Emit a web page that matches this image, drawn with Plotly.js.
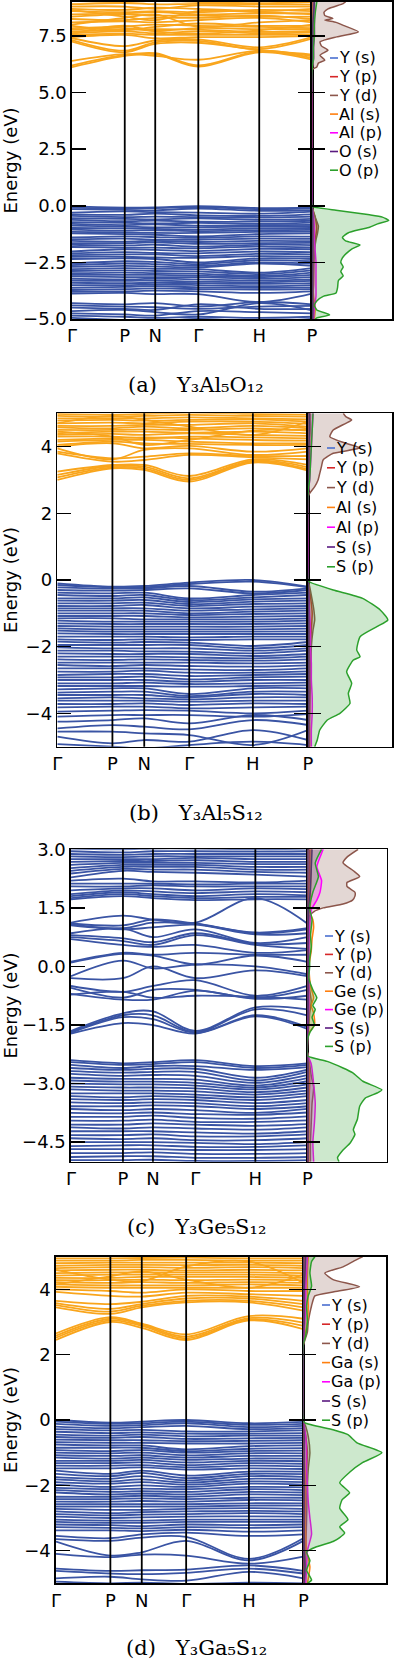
<!DOCTYPE html>
<html><head><meta charset="utf-8">
<script src="https://cdn.plot.ly/plotly-3.0.1.min.js"></script>
<style>html,body{margin:0;padding:0;background:#fff;}#chart{width:394px;height:1660px;}</style>
</head><body><div id="chart"></div>
<script>
// k-path (Γ-P-N-Γ-H-P, bcc) cumulative distances and labels
const kDist = [0, 0.866, 1.366, 2.073, 3.073, 3.939];
const kLabels = ['Γ','P','N','Γ','H','P'];

// ---------- band energies (eV) at Γ, P, N, Γ, H, P ----------
const bandsA_cond = [
[6.12,6.62,6.70,6.15,6.78,6.45],[6.20,6.66,6.74,6.20,6.82,6.52],[6.40,6.70,6.62,6.45,6.85,6.60],
[7.25,6.78,7.15,7.20,6.88,6.68],[7.32,6.85,7.22,7.28,6.92,7.38],[7.40,7.05,7.30,7.35,7.00,7.45],
[7.45,7.55,7.40,7.45,7.45,7.50],[7.55,7.60,7.55,7.55,7.55,7.55],[7.62,7.70,7.62,7.70,7.62,7.65],
[7.70,7.78,7.80,7.78,7.68,7.72],[7.78,7.85,7.72,7.85,7.80,7.80],[7.85,7.92,8.00,7.95,7.90,7.85],
[7.95,7.75,7.90,8.05,7.95,7.95],[8.10,8.15,8.10,8.20,8.30,8.10],[8.25,8.20,8.30,8.30,8.40,8.25],
[8.35,8.45,8.40,8.40,8.35,8.35],[8.45,8.50,8.55,8.45,8.50,8.50],[8.60,8.55,8.60,8.55,8.65,8.60],
[8.70,8.65,8.75,8.70,8.60,8.70],[8.80,8.80,8.70,8.85,8.80,8.80],[8.90,8.95,8.90,8.92,8.90,8.88],
[8.65,8.35,8.20,8.60,8.55,8.45],[8.00,8.30,8.45,7.90,8.10,8.20],[7.60,7.95,7.70,7.60,7.75,8.00],
[9.05,9.00,9.05,9.00,8.95,9.00]];
const bandsA_val = [
[-0.03,-0.08,-0.07,-0.02,-0.10,-0.08],[-0.08,-0.12,-0.10,-0.06,-0.15,-0.12],[-0.15,-0.18,-0.20,-0.12,-0.22,-0.20],
[-0.30,-0.25,-0.28,-0.30,-0.35,-0.26],[-0.38,-0.40,-0.35,-0.42,-0.45,-0.38],[-0.45,-0.50,-0.48,-0.50,-0.52,-0.48],
[-0.55,-0.58,-0.60,-0.56,-0.62,-0.58],[-0.62,-0.68,-0.65,-0.70,-0.70,-0.66],[-0.72,-0.75,-0.78,-0.75,-0.80,-0.74],
[-0.80,-0.85,-0.82,-0.88,-0.86,-0.84],[-0.88,-0.92,-0.95,-0.95,-0.92,-0.90],[-0.98,-1.00,-1.02,-1.05,-1.00,-0.98],
[-1.05,-1.10,-1.08,-1.12,-1.08,-1.06],[-1.15,-1.18,-1.20,-1.20,-1.15,-1.14],[-1.22,-1.25,-1.28,-1.35,-1.25,-1.22],
[-1.40,-1.35,-1.38,-1.42,-1.35,-1.36],[-1.48,-1.45,-1.50,-1.50,-1.45,-1.46],[-1.55,-1.58,-1.55,-1.60,-1.55,-1.56],
[-1.65,-1.65,-1.62,-1.68,-1.65,-1.64],[-1.72,-1.75,-1.72,-1.80,-1.72,-1.74],[-1.82,-1.85,-1.85,-1.88,-1.80,-1.84],
[-2.02,-1.92,-1.95,-2.00,-1.90,-1.92],[-2.10,-2.05,-2.08,-2.10,-2.02,-2.05],[-2.18,-2.15,-2.15,-2.22,-2.12,-2.15],
[-2.25,-2.25,-2.28,-2.30,-2.22,-2.25],[-2.35,-2.32,-2.35,-2.50,-2.32,-2.35],[-2.55,-2.45,-2.48,-2.58,-2.40,-2.45],
[-2.62,-2.55,-2.58,-2.65,-2.50,-2.55],[-2.70,-2.65,-2.68,-2.72,-2.55,-2.65],[-2.80,-2.75,-2.78,-2.80,-2.95,-2.75],
[-2.88,-2.85,-2.88,-2.90,-3.02,-2.85],[-2.98,-2.95,-2.98,-3.00,-3.10,-2.95],[-3.05,-3.05,-3.05,-3.08,-3.15,-3.05],
[-3.12,-3.15,-3.15,-3.15,-3.22,-3.15],[-3.22,-3.25,-3.22,-3.25,-3.30,-3.25],[-3.30,-3.32,-3.30,-3.35,-3.38,-3.32],
[-3.40,-3.42,-3.40,-3.42,-3.45,-3.42],[-3.50,-3.50,-3.48,-3.50,-3.55,-3.50],[-3.62,-3.58,-3.55,-3.60,-3.62,-3.60],
[-3.72,-3.68,-3.65,-3.68,-3.70,-3.68],[-3.80,-3.78,-3.75,-3.78,-3.85,-3.78],[-3.88,-3.85,-3.90,-3.90,-4.25,-3.88],
[-4.30,-4.35,-4.30,-4.45,-4.25,-4.35],[-4.40,-4.45,-4.48,-4.55,-4.45,-4.42],[-4.50,-4.55,-4.60,-4.35,-4.55,-4.55],
[-4.65,-4.60,-4.70,-4.80,-4.30,-4.62],[-4.75,-4.80,-4.85,-4.65,-4.70,-4.75],[-4.85,-4.90,-4.95,-4.90,-4.95,-4.90],
[-4.95,-5.05,-5.10,-5.00,-5.10,-5.00]];

const bandsB_cond = [
[3.00,3.35,3.30,2.95,3.52,3.28],[3.08,3.38,3.35,3.00,3.55,3.32],[3.15,3.42,3.40,3.05,3.58,3.38],
[3.25,3.45,3.45,3.12,3.62,3.45],[3.80,3.55,3.60,3.75,3.68,3.62],[3.85,3.65,3.70,3.80,3.72,3.72],
[3.95,3.62,3.90,3.95,3.75,3.85],[4.00,4.10,3.95,4.02,3.85,3.95],[4.05,4.15,4.10,4.08,4.05,4.05],
[4.15,4.20,4.20,4.15,4.10,4.10],[4.20,4.25,4.28,4.25,4.20,4.18],[4.30,4.30,4.25,4.30,4.28,4.25],
[4.35,4.38,4.35,4.40,4.35,4.32],[4.40,4.45,4.45,4.42,4.45,4.40],[4.50,4.50,4.52,4.50,4.55,4.48],
[4.58,4.55,4.60,4.55,4.62,4.55],[4.62,4.62,4.65,4.65,4.70,4.60],[4.70,4.72,4.70,4.75,4.75,4.68],
[4.78,4.80,4.78,4.80,4.82,4.75],[4.85,4.85,4.85,4.88,4.85,4.82],[4.92,4.90,4.92,4.95,4.92,4.90],
[4.98,4.96,4.98,5.02,4.98,4.96],[4.45,4.30,4.05,4.20,4.48,4.50],[4.70,4.92,4.80,4.60,4.35,4.75]];
const bandsB_val = [
[-0.10,-0.20,-0.18,-0.08,0.00,-0.20],[-0.15,-0.22,-0.22,-0.12,-0.05,-0.22],[-0.22,-0.26,-0.25,-0.18,-0.35,-0.25],
[-0.30,-0.32,-0.30,-0.25,-0.40,-0.30],[-0.38,-0.40,-0.38,-0.55,-0.45,-0.38],[-0.45,-0.48,-0.45,-0.60,-0.52,-0.45],
[-0.55,-0.55,-0.52,-0.66,-0.58,-0.55],[-0.62,-0.62,-0.60,-0.72,-0.65,-0.62],[-0.70,-0.70,-0.68,-0.78,-0.72,-0.70],
[-0.78,-0.78,-0.75,-0.85,-0.80,-0.78],[-0.85,-0.85,-0.85,-0.92,-0.88,-0.85],[-0.92,-0.92,-0.92,-1.00,-0.95,-0.92],
[-1.00,-1.00,-1.00,-1.05,-1.02,-1.00],[-1.08,-1.08,-1.08,-1.12,-1.10,-1.08],[-1.15,-1.15,-1.18,-1.18,-1.18,-1.15],
[-1.22,-1.25,-1.25,-1.25,-1.25,-1.22],[-1.30,-1.32,-1.32,-1.32,-1.32,-1.30],[-1.38,-1.40,-1.40,-1.40,-1.40,-1.38],
[-1.45,-1.48,-1.48,-1.48,-1.48,-1.46],[-1.52,-1.55,-1.55,-1.55,-1.55,-1.54],[-1.60,-1.62,-1.62,-1.62,-1.62,-1.62],
[-1.70,-1.70,-1.70,-1.72,-1.70,-1.70],[-1.78,-1.80,-1.78,-1.80,-1.78,-1.78],[-1.85,-1.88,-1.86,-1.88,-1.98,-1.86],
[-1.95,-1.95,-1.95,-1.95,-2.05,-1.95],[-2.02,-2.05,-2.05,-2.05,-2.12,-2.05],[-2.12,-2.12,-2.14,-2.15,-2.20,-2.12],
[-2.20,-2.22,-2.22,-2.22,-2.28,-2.22],[-2.30,-2.30,-2.30,-2.32,-2.35,-2.30],[-2.38,-2.40,-2.38,-2.40,-2.42,-2.38],
[-2.48,-2.48,-2.48,-2.48,-2.50,-2.48],[-2.55,-2.58,-2.55,-2.58,-2.60,-2.56],[-2.65,-2.65,-2.65,-2.68,-2.70,-2.65],
[-2.75,-2.75,-2.72,-2.78,-2.78,-2.74],[-2.85,-2.82,-2.82,-2.88,-2.85,-2.82],[-2.92,-2.92,-2.90,-2.98,-2.92,-2.90],
[-3.00,-3.00,-3.00,-3.05,-3.00,-3.00],[-3.10,-3.10,-3.08,-3.12,-3.10,-3.08],[-3.18,-3.18,-3.18,-3.20,-3.18,-3.16],
[-3.28,-3.25,-3.25,-3.42,-3.25,-3.25],[-3.38,-3.35,-3.35,-3.48,-3.35,-3.35],[-3.45,-3.45,-3.45,-3.52,-3.42,-3.45],
[-3.55,-3.52,-3.55,-3.58,-3.52,-3.52],[-3.62,-3.62,-3.62,-3.65,-3.62,-3.62],[-3.72,-3.72,-3.70,-3.75,-3.70,-3.72],
[-3.82,-3.80,-3.80,-3.85,-3.82,-3.80],[-3.95,-3.92,-3.90,-3.92,-4.00,-3.92],[-4.10,-4.05,-4.05,-4.05,-4.10,-4.02],
[-4.25,-4.20,-4.15,-4.30,-4.05,-4.20],[-4.45,-4.35,-4.40,-4.48,-4.20,-4.35],[-4.55,-4.55,-4.60,-4.65,-4.95,-4.50],
[-4.70,-4.90,-4.80,-4.85,-4.50,-4.80],[-4.92,-5.00,-5.05,-4.95,-4.85,-4.95]];

const bandsC_top = [
[1.72,1.80,1.75,1.70,1.72,1.72],[1.75,1.85,1.80,1.75,1.78,1.78],[1.80,1.90,1.85,1.80,1.85,1.82],
[1.85,1.95,1.92,1.88,1.92,1.90],[1.95,2.00,2.00,1.95,2.00,1.98],[2.05,2.05,2.08,2.05,2.05,2.05],
[2.12,2.12,2.12,2.10,2.12,2.12],[2.20,2.25,2.18,2.18,2.15,2.20],[2.28,2.45,2.42,2.40,2.35,2.30],
[2.38,2.50,2.48,2.48,2.42,2.40],[2.45,2.55,2.55,2.55,2.48,2.48],[2.52,2.60,2.60,2.60,2.55,2.55],
[2.60,2.65,2.65,2.65,2.62,2.62],[2.68,2.70,2.70,2.72,2.68,2.68],[2.75,2.75,2.75,2.78,2.75,2.75],
[2.82,2.80,2.82,2.82,2.82,2.82],[2.88,2.86,2.88,2.88,2.88,2.88],[2.95,2.92,2.95,2.95,2.94,2.95],
[3.02,3.00,3.02,3.02,3.00,3.02]];
const bandsC_mid = [
[1.12,1.30,1.20,1.12,1.75,1.10],[1.10,1.05,1.20,1.10,0.87,0.98],[1.08,0.98,1.12,1.09,0.85,0.95],
[1.05,0.95,1.00,1.07,0.82,0.85],[0.85,0.97,0.75,0.95,0.60,0.75],[0.80,0.72,0.62,0.85,0.58,0.60],
[0.75,0.65,0.55,0.80,0.55,0.45],[0.70,0.55,0.50,0.55,0.35,0.42],[0.12,0.35,0.30,0.35,0.30,0.30],
[0.10,0.32,0.28,0.05,0.28,0.12],[-0.25,0.15,-0.05,0.05,0.00,-0.20],[-0.30,-0.30,0.00,-0.30,-0.10,-0.25],
[-0.50,-0.65,-0.50,-0.35,-0.75,-0.50],[-0.55,-0.80,-0.60,-0.60,-0.80,-0.60],[-0.70,-0.85,-0.85,-0.62,-0.83,-0.75],
[-0.72,-0.65,-0.80,-0.75,-0.78,-0.85],[-1.65,-1.20,-1.15,-1.65,-1.05,-1.10],[-1.68,-1.25,-1.25,-1.68,-1.10,-1.25],
[-1.70,-1.30,-1.35,-1.70,-1.25,-1.55],[-1.72,-1.45,-1.50,-1.72,-1.28,-1.60]];
const bandsC_val = [
[-2.40,-2.48,-2.45,-2.40,-2.55,-2.48],[-2.45,-2.52,-2.50,-2.45,-2.60,-2.52],[-2.52,-2.60,-2.55,-2.55,-2.65,-2.58],
[-2.60,-2.65,-2.62,-2.62,-2.85,-2.64],[-2.68,-2.72,-2.70,-2.70,-2.92,-2.70],[-2.75,-2.80,-2.78,-2.80,-2.98,-2.78],
[-2.85,-2.88,-2.88,-2.90,-3.05,-2.86],[-2.92,-2.95,-2.95,-2.98,-3.10,-2.94],[-3.00,-3.02,-3.02,-3.05,-3.15,-3.02],
[-3.08,-3.10,-3.10,-3.12,-3.22,-3.10],[-3.15,-3.18,-3.18,-3.20,-3.28,-3.18],[-3.25,-3.25,-3.25,-3.28,-3.35,-3.25],
[-3.32,-3.35,-3.32,-3.35,-3.42,-3.32],[-3.40,-3.42,-3.40,-3.42,-3.50,-3.42],[-3.48,-3.50,-3.48,-3.50,-3.58,-3.50],
[-3.58,-3.58,-3.56,-3.58,-3.65,-3.58],[-3.65,-3.68,-3.65,-3.68,-3.75,-3.65],[-3.75,-3.76,-3.74,-3.78,-3.80,-3.74],
[-3.85,-3.85,-3.82,-3.88,-3.90,-3.84],[-3.95,-3.95,-3.92,-3.98,-3.98,-3.94],[-4.05,-4.05,-4.02,-4.05,-4.08,-4.04],
[-4.12,-4.15,-4.12,-4.15,-4.18,-4.12],[-4.22,-4.22,-4.22,-4.25,-4.28,-4.22],[-4.32,-4.32,-4.30,-4.35,-4.35,-4.30],
[-4.40,-4.42,-4.40,-4.45,-4.45,-4.40],[-4.50,-4.50,-4.50,-4.52,-4.55,-4.50],[-4.60,-4.58,-4.58,-4.62,-4.62,-4.58],
[-4.68,-4.68,-4.68,-4.70,-4.70,-4.68],[-4.78,-4.78,-4.76,-4.80,-4.80,-4.78],[-4.88,-4.86,-4.86,-4.90,-4.90,-4.88],
[-4.96,-4.96,-4.95,-4.98,-4.98,-4.96]];

const bandsD_cond = [
[2.45,3.00,2.82,2.45,3.05,2.78],[2.52,3.05,2.88,2.50,3.08,2.88],[2.58,3.10,2.92,2.55,3.12,2.98],
[2.65,3.15,2.95,2.62,3.18,3.10],[3.45,3.25,3.45,3.60,3.60,3.35],[3.52,3.32,3.50,3.65,3.65,3.45],
[3.58,3.40,3.55,3.72,3.72,3.55],[3.65,3.55,3.62,3.80,3.78,3.65],[3.92,3.80,3.78,3.90,3.85,3.80],
[4.00,3.95,3.90,4.00,3.95,3.95],[4.08,4.05,4.05,4.05,4.05,4.05],[4.15,4.12,4.12,4.12,4.15,4.12],
[4.22,4.20,4.22,4.20,4.22,4.20],[4.28,4.28,4.30,4.28,4.30,4.28],[4.35,4.35,4.38,4.38,4.38,4.35],
[4.42,4.45,4.45,4.45,4.45,4.42],[4.50,4.52,4.52,4.52,4.52,4.50],[4.58,4.60,4.60,4.58,4.60,4.58],
[4.65,4.68,4.68,4.66,4.68,4.65],[4.72,4.75,4.75,4.74,4.75,4.72],[4.80,4.82,4.82,4.82,4.82,4.80],
[4.88,4.88,4.90,4.90,4.88,4.88],[4.95,4.95,4.96,4.97,4.95,4.95],[4.15,4.40,4.55,4.30,4.05,4.45],
[4.60,4.30,4.25,4.70,4.85,4.20]];
const bandsD_val = [
[0.00,-0.08,-0.05,0.00,-0.10,-0.06],[-0.05,-0.12,-0.10,-0.05,-0.15,-0.12],[-0.12,-0.18,-0.16,-0.10,-0.22,-0.18],
[-0.20,-0.25,-0.22,-0.18,-0.28,-0.25],[-0.28,-0.32,-0.30,-0.35,-0.35,-0.32],[-0.36,-0.40,-0.38,-0.42,-0.42,-0.40],
[-0.45,-0.48,-0.45,-0.50,-0.48,-0.48],[-0.52,-0.55,-0.52,-0.58,-0.56,-0.55],[-0.60,-0.62,-0.62,-0.65,-0.64,-0.62],
[-0.68,-0.70,-0.70,-0.72,-0.72,-0.70],[-0.75,-0.78,-0.78,-0.90,-0.80,-0.78],[-0.85,-0.85,-0.85,-0.95,-0.88,-0.86],
[-0.92,-0.95,-0.92,-1.00,-0.95,-0.94],[-1.00,-1.02,-1.00,-1.08,-1.02,-1.02],[-1.08,-1.10,-1.08,-1.15,-1.10,-1.10],
[-1.15,-1.18,-1.15,-1.22,-1.18,-1.18],[-1.25,-1.25,-1.22,-1.30,-1.25,-1.26],[-1.32,-1.32,-1.30,-1.38,-1.32,-1.34],
[-1.40,-1.40,-1.38,-1.45,-1.40,-1.42],[-1.48,-1.48,-1.45,-1.52,-1.48,-1.50],[-1.55,-1.65,-1.55,-1.70,-1.58,-1.58],
[-1.65,-1.72,-1.62,-1.78,-1.65,-1.66],[-1.75,-1.80,-1.72,-1.85,-1.72,-1.74],[-1.82,-1.88,-1.82,-1.92,-1.80,-1.82],
[-1.90,-1.95,-1.90,-1.98,-1.88,-1.90],[-1.98,-2.05,-2.00,-2.05,-1.95,-1.98],[-2.08,-2.12,-2.10,-2.12,-2.05,-2.06],
[-2.15,-2.20,-2.18,-2.20,-2.12,-2.15],[-2.22,-2.28,-2.25,-2.28,-2.20,-2.22],[-2.35,-2.35,-2.32,-2.35,-2.28,-2.30],
[-2.42,-2.42,-2.40,-2.42,-2.38,-2.38],[-2.50,-2.50,-2.48,-2.50,-2.45,-2.46],[-2.58,-2.58,-2.58,-2.58,-2.55,-2.55],
[-2.65,-2.65,-2.65,-2.65,-2.62,-2.62],[-2.72,-2.75,-2.75,-2.72,-2.70,-2.72],[-2.80,-2.85,-2.82,-2.80,-2.78,-2.80],
[-2.88,-2.92,-2.90,-2.88,-2.85,-2.88],[-2.96,-3.00,-2.98,-2.96,-2.95,-2.96],[-3.05,-3.08,-3.08,-3.05,-3.05,-3.05],
[-3.12,-3.15,-3.15,-3.12,-3.12,-3.12],[-3.20,-3.22,-3.25,-3.20,-3.22,-3.20],[-3.28,-3.30,-3.32,-3.28,-3.30,-3.28],
[-3.38,-3.38,-3.40,-3.36,-3.42,-3.38],[-3.55,-3.62,-3.50,-3.45,-3.55,-3.50],[-3.65,-3.70,-3.60,-3.58,-4.25,-3.62],
[-3.72,-4.15,-4.05,-3.70,-4.30,-3.70],[-4.10,-4.20,-4.12,-4.15,-4.40,-4.18],[-4.55,-4.62,-4.60,-4.58,-4.45,-4.62],
[-4.62,-4.70,-4.72,-4.68,-4.55,-4.70],[-4.85,-4.80,-4.88,-4.92,-4.65,-4.85],[-4.95,-5.00,-4.98,-5.02,-4.98,-5.00]];

// ---------- projected DOS (arb. units), energies in eV ----------
const dosA_E   = [-5,-4.5,-4,-3.5,-3,-2.5,-2,-1.5,-1,-0.5,0,6,6.5,7,7.5,8,8.5,9];
const dosA_Ys  = [0.01,0.01,0.01,0.01,0.01,0.01,0.01,0.01,0.01,0.01,0,0,0.01,0.01,0.01,0.01,0.01,0.01];
const dosA_Yp  = [0.01,0.01,0.01,0.02,0.02,0.02,0.03,0.04,0.06,0.04,0,0,0.01,0.01,0.02,0.02,0.02,0.02];
const dosA_Als = [0.03,0.04,0.02,0.01,0.01,0.01,0.01,0.01,0.01,0.01,0,0,0.01,0.01,0.01,0.01,0.01,0.01];
const dosA_Alp = [0.02,0.03,0.05,0.05,0.05,0.05,0.04,0.03,0.03,0.02,0,0,0.02,0.02,0.03,0.03,0.03,0.03];
const dosA_Os  = [0.01,0.01,0.01,0.01,0.01,0.01,0.01,0.01,0.01,0.01,0,0,0.01,0.01,0.01,0.01,0.02,0.03];
const dosA_YdE = [-5,-4,-3,-2,-1.5,-1.2,-0.9,-0.6,-0.3,0,6.0,6.13,6.3,6.43,6.65,6.87,7.05,7.24,7.46,7.68,7.97,8.1,8.2,8.27,8.4,8.55,8.7,8.93,9.0];
const dosA_Yd  = [0.01,0.01,0.02,0.03,0.05,0.07,0.08,0.05,0.02,0,0,0.06,0.08,0.16,0.1,0.2,0.12,0.1,0.31,0.58,0.39,0.3,0.16,0.26,0.16,0.15,0.2,0.39,0.42];
const dosA_OpE = [-5,-4.95,-4.82,-4.6,-4.4,-4.2,-4.0,-3.85,-3.6,-3.3,-3.1,-2.9,-2.7,-2.5,-2.3,-2.1,-1.9,-1.73,-1.55,-1.4,-1.2,-1.05,-0.95,-0.8,-0.65,-0.5,-0.4,-0.2,-0.05,0,6.0,6.5,7.0,7.5,8.0,8.5,9.0];
const dosA_Op  = [0.04,0.06,0.22,0.06,0.03,0.06,0.14,0.3,0.32,0.33,0.39,0.36,0.39,0.36,0.38,0.43,0.5,0.6,0.42,0.38,0.45,0.6,0.72,0.82,0.96,0.88,0.72,0.3,0.02,0,0,0.02,0.02,0.03,0.03,0.04,0.06];

const dosB_E   = [-5,-4.5,-4,-3.5,-3,-2.5,-2,-1.5,-1,-0.5,0,2.5,3,3.5,4,4.5,5];
const dosB_Ys  = [0.01,0.01,0.01,0.01,0.01,0.01,0.01,0.01,0.01,0.01,0,0,0.01,0.01,0.01,0.01,0.01];
const dosB_Yp  = [0.01,0.01,0.02,0.02,0.02,0.03,0.03,0.04,0.05,0.03,0,0,0.01,0.01,0.02,0.02,0.02];
const dosB_Als = [0.02,0.02,0.01,0.01,0.01,0.01,0.01,0.01,0.01,0.01,0,0,0.01,0.01,0.01,0.02,0.02];
const dosB_Alp = [0.04,0.04,0.05,0.05,0.04,0.04,0.03,0.03,0.02,0.01,0,0,0.02,0.03,0.04,0.05,0.06];
const dosB_Ss  = [0.01,0.01,0.01,0.01,0.01,0.01,0.01,0.01,0.01,0.01,0,0,0.01,0.01,0.01,0.02,0.02];
const dosB_YdE = [-5,-4,-3,-2,-1.5,-1.2,-0.9,-0.6,-0.2,0,2.5,2.6,2.8,3.0,3.2,3.4,3.6,3.8,3.96,4.1,4.3,4.5,4.7,4.8,4.9,5.0];
const dosB_Yd  = [0.02,0.02,0.03,0.04,0.06,0.08,0.07,0.05,0.02,0,0,0.02,0.08,0.12,0.14,0.16,0.18,0.3,0.62,0.45,0.26,0.3,0.45,0.52,0.45,0.42];
const dosB_SpE = [-5,-4.8,-4.5,-4.2,-4.0,-3.7,-3.4,-3.1,-2.75,-2.4,-2.3,-2.1,-1.7,-1.4,-1.2,-0.9,-0.55,-0.3,-0.06,0,2.6,3.0,3.5,4.0,4.5,5.0];
const dosB_Sp  = [0.08,0.11,0.14,0.23,0.38,0.5,0.48,0.52,0.46,0.54,0.62,0.58,0.62,0.82,0.95,0.86,0.65,0.3,0.02,0,0,0.02,0.03,0.04,0.05,0.06];

const dosC_E   = [-5,-4.5,-4,-3.5,-3,-2.5,-2.2,-2,-1.5,-1,-0.5,0,0.5,1,1.5,2,2.5,3];
const dosC_Ys  = [0.01,0.01,0.01,0.01,0.01,0.01,0,0,0.01,0.01,0.01,0.01,0.01,0.01,0.01,0.01,0.01,0.01];
const dosC_Yp  = [0.01,0.01,0.02,0.02,0.03,0.02,0,0,0.01,0.02,0.01,0.01,0.01,0.01,0.02,0.02,0.03,0.03];
const dosC_Ss  = [0.01,0.01,0.01,0.01,0.01,0.01,0,0,0.01,0.01,0.01,0.01,0.01,0.01,0.02,0.04,0.05,0.06];
const dosC_YdE = [-5,-4.5,-4,-3.5,-3.1,-2.8,-2.5,-2.3,-2.2,-1.8,-1.5,-1.2,-0.9,-0.6,-0.3,0,0.5,1.0,1.3,1.4,1.5,1.6,1.7,1.8,1.9,2.05,2.15,2.3,2.45,2.65,2.8,3.0];
const dosC_Yd  = [0.04,0.04,0.05,0.06,0.08,0.05,0.03,0.01,0,0.01,0.02,0.03,0.05,0.03,0.02,0.02,0.02,0.02,0.03,0.08,0.2,0.45,0.57,0.6,0.6,0.5,0.5,0.66,0.58,0.45,0.5,0.64];
const dosC_GesE = [-5,-4.5,-4,-3.5,-3,-2.5,-2.3,-2.2,-1.8,-1.7,-1.5,-1.2,-1.0,-0.8,-0.5,0,0.4,0.7,1.0,1.2,1.4,1.6,2.0,2.5,3.0];
const dosC_Ges  = [0.02,0.02,0.02,0.02,0.02,0.02,0.01,0,0,0.02,0.09,0.08,0.05,0.08,0.04,0.02,0.05,0.06,0.08,0.07,0.03,0.04,0.04,0.05,0.05];
const dosC_GepE = [-5,-4.5,-4,-3.5,-3,-2.5,-2.3,-2.2,-1.8,-1.5,-1,-0.5,0,0.5,1.0,1.45,1.7,1.9,2.2,2.55,2.9,3.0];
const dosC_Gep  = [0.08,0.07,0.09,0.1,0.08,0.05,0.01,0,0,0.01,0.02,0.02,0.02,0.02,0.03,0.05,0.12,0.16,0.18,0.12,0.18,0.2];
const dosC_SpE = [-5,-4.9,-4.7,-4.52,-4.3,-4.18,-3.92,-3.58,-3.37,-3.24,-3.16,-2.94,-2.72,-2.6,-2.43,-2.3,-2.2,-1.9,-1.7,-1.5,-1.3,-1.1,-1.0,-0.8,-0.6,-0.3,0,0.2,0.5,0.8,1.0,1.2,1.5,1.9,2.3,2.65,3.0];
const dosC_Sp  = [0.4,0.38,0.45,0.54,0.6,0.58,0.63,0.66,0.73,0.88,0.94,0.7,0.57,0.45,0.25,0.01,0,0,0.03,0.09,0.06,0.1,0.07,0.12,0.07,0.02,0.03,0.03,0.05,0.04,0.05,0.06,0.03,0.07,0.14,0.1,0.18];

const dosD_E   = [-5,-4.5,-4,-3.5,-3,-2.5,-2,-1.5,-1,-0.5,0,2.3,3,3.5,4,4.5,5];
const dosD_Ys  = [0.01,0.01,0.01,0.01,0.01,0.01,0.01,0.01,0.01,0.01,0,0,0.01,0.01,0.01,0.01,0.01];
const dosD_Yp  = [0.01,0.01,0.02,0.02,0.02,0.03,0.03,0.04,0.05,0.03,0,0,0.01,0.01,0.02,0.02,0.02];
const dosD_Gas = [0.05,0.08,0.04,0.03,0.02,0.02,0.02,0.02,0.01,0.01,0,0,0.05,0.06,0.05,0.05,0.06];
const dosD_Gap = [0.03,0.04,0.05,0.1,0.08,0.06,0.05,0.04,0.04,0.03,0,0,0.02,0.03,0.03,0.04,0.05];
const dosD_Ss  = [0.01,0.02,0.01,0.01,0.01,0.01,0.01,0.01,0.01,0.01,0,0,0.01,0.01,0.01,0.02,0.03];
const dosD_YdE = [-5,-4,-3,-2,-1.5,-1.0,-0.5,-0.2,0,2.3,2.45,2.7,3.0,3.28,3.5,3.8,3.92,4.08,4.3,4.5,4.69,4.85,5.0];
const dosD_Yd  = [0.02,0.03,0.04,0.05,0.06,0.08,0.06,0.03,0,0,0.02,0.05,0.06,0.08,0.1,0.14,0.36,0.68,0.36,0.26,0.48,0.6,0.72];
const dosD_SpE = [-5,-4.9,-4.6,-4.3,-4.04,-3.88,-3.72,-3.6,-3.46,-3.27,-3.05,-2.7,-2.44,-2.23,-1.92,-1.6,-1.3,-1.0,-0.7,-0.45,-0.3,-0.09,0,2.3,2.6,3.0,3.5,3.8,4.1,4.5,4.85,5.0];
const dosD_Sp  = [0.05,0.1,0.04,0.08,0.04,0.16,0.36,0.44,0.5,0.44,0.54,0.44,0.47,0.56,0.44,0.56,0.72,0.95,0.65,0.54,0.36,0.02,0,0,0.03,0.05,0.04,0.06,0.1,0.08,0.1,0.14];

// legend labels and captions
const namesA = ['Y (s)','Y (p)','Y (d)','Al (s)','Al (p)','O (s)','O (p)'];
const namesB = ['Y (s)','Y (p)','Y (d)','Al (s)','Al (p)','S (s)','S (p)'];
const namesC = ['Y (s)','Y (p)','Y (d)','Ge (s)','Ge (p)','S (s)','S (p)'];
const namesD = ['Y (s)','Y (p)','Y (d)','Ga (s)','Ga (p)','S (s)','S (p)'];
const captions = [
 '(a)\u00a0\u00a0 Y\u2083Al\u2085O\u2081\u2082',
 '(b)\u00a0\u00a0 Y\u2083Al\u2085S\u2081\u2082',
 '(c)\u00a0\u00a0 Y\u2083Ge\u2085S\u2081\u2082',
 '(d)\u00a0\u00a0 Y\u2083Ga\u2085S\u2081\u2082'];

// ---------- styling ----------
const W = 394, H = 1660;
const BLUE = '#3a54a4', ORANGE = '#f9a51c';
const pdosColors = ['#4a6fd0','#d62728','#8c564b','#ff7f0e','#ff00ff','#5a1a80','#2ca02c'];
const FONT = 'DejaVu Sans';

const panels = [
 {band:[72,312], dos:[312,392], y:[2,319], range:[-5,9], tv:[-5,-2.5,0,2.5,5,7.5], fmt:'.1f',
  groups:[[bandsA_val,BLUE],[bandsA_cond,ORANGE]], names:namesA,
  pdos:[[dosA_E,dosA_Ys],[dosA_E,dosA_Yp],[dosA_YdE,dosA_Yd],[dosA_E,dosA_Als],[dosA_E,dosA_Alp],[dosA_E,dosA_Os],[dosA_OpE,dosA_Op]],
  leg:[330,58,18.7], capY:385},
 {band:[57.3,308], dos:[308,392], y:[413.3,746.7], range:[-5,5], tv:[-4,-2,0,2,4], fmt:'d',
  groups:[[bandsB_val,BLUE],[bandsB_cond,ORANGE]], names:namesB,
  pdos:[[dosB_E,dosB_Ys],[dosB_E,dosB_Yp],[dosB_YdE,dosB_Yd],[dosB_E,dosB_Als],[dosB_E,dosB_Alp],[dosB_E,dosB_Ss],[dosB_SpE,dosB_Sp]],
  leg:[327,448,19.8], capY:813},
 {band:[71,307.3], dos:[307.3,386.7], y:[849.3,1161.7], range:[-5,3], tv:[-4.5,-3,-1.5,0,1.5,3], fmt:'.1f',
  groups:[[bandsC_val,BLUE],[bandsC_mid,BLUE],[bandsC_top,BLUE]], names:namesC,
  pdos:[[dosC_E,dosC_Ys],[dosC_E,dosC_Yp],[dosC_YdE,dosC_Yd],[dosC_GesE,dosC_Ges],[dosC_GepE,dosC_Gep],[dosC_E,dosC_Ss],[dosC_SpE,dosC_Sp]],
  leg:[325,936,18.4], capY:1227},
 {band:[56,303.3], dos:[303.3,386], y:[1256.7,1583.3], range:[-5,5], tv:[-4,-2,0,2,4], fmt:'d',
  groups:[[bandsD_val,BLUE],[bandsD_cond,ORANGE]], names:namesD,
  pdos:[[dosD_E,dosD_Ys],[dosD_E,dosD_Yp],[dosD_YdE,dosD_Yd],[dosD_E,dosD_Gas],[dosD_E,dosD_Gap],[dosD_E,dosD_Ss],[dosD_SpE,dosD_Sp]],
  leg:[322,1305,19.2], capY:1648}
];

function hexA(hex, a){const n=parseInt(hex.slice(1),16);return `rgba(${(n>>16)&255},${(n>>8)&255},${n&255},${a})`;}
const px = x => x / W;
const py = y => 1 - y / H;

const data = [], shapes = [], annotations = [];
const layout = {width:W, height:H, margin:{l:0,r:0,t:0,b:0}, paper_bgcolor:'#fff', plot_bgcolor:'#fff',
  showlegend:false, font:{family:FONT, color:'#000', size:16}, hovermode:false};

panels.forEach((p, i) => {
  const nb = 2*i+1, nd = 2*i+2;
  const xd = 'x'+nd, yd = 'y'+nd;
  const kx = (n) => n===1 ? 'xaxis' : 'xaxis'+n;
  const ky = (n) => n===1 ? 'yaxis' : 'yaxis'+n;
  const xRef = nb===1 ? 'x' : 'x'+nb, yRef = nb===1 ? 'y' : 'y'+nb;
  const yDom = [py(p.y[1]), py(p.y[0])];

  // bands
  p.groups.forEach(([bands, color]) => {
    const x = [], y = [];
    bands.forEach(b => { b.forEach((e, j) => { x.push(kDist[j]); y.push(e); }); x.push(null); y.push(null); });
    data.push({type:'scatter', mode:'lines', x, y, xaxis:xRef, yaxis:yRef,
      line:{color, width:1.8, shape:'spline', smoothing:1}, hoverinfo:'skip', connectgaps:false});
  });

  // projected DOS
  p.pdos.forEach(([E, D], c) => {
    data.push({type:'scatter', mode:'lines', x:D, y:E, xaxis:xd, yaxis:yd,
      line:{color:pdosColors[c], width:1.5, shape:'spline', smoothing:0.5},
      fill:'tozerox', fillcolor:hexA(pdosColors[c], 0.24), hoverinfo:'skip'});
  });

  const ticktext = p.tv.map(v => (v<0?'\u2212':'') + (p.fmt==='d' ? Math.abs(v).toFixed(0) : Math.abs(v).toFixed(1)));
  layout[kx(nb)] = {domain:[px(p.band[0]), px(p.band[1])], anchor:yRef, range:[kDist[0], kDist[kDist.length-1]],
    tickvals:kDist, ticktext:kLabels, ticks:'', showgrid:false, zeroline:false,
    showline:true, linecolor:'#000', linewidth:1.6, mirror:true, tickfont:{size:18, family:FONT}};
  layout[ky(nb)] = {domain:yDom, anchor:xRef, range:p.range, tickvals:p.tv, ticktext:ticktext,
    ticks:'inside', ticklen:14, tickwidth:1.6, tickcolor:'#000', showgrid:false, zeroline:false,
    showline:true, linecolor:'#000', linewidth:1.6, mirror:'ticks', tickfont:{size:18, family:FONT},
    title:{text:'Energy (eV)', font:{size:18, family:FONT}, standoff:4}};
  layout[kx(nd)] = {domain:[px(p.dos[0]), px(p.dos[1])], anchor:yd, range:[0, 1], tickvals:[], showticklabels:false,
    ticks:'', showgrid:false, zeroline:false, showline:true, linecolor:'#000', linewidth:1.6, mirror:true};
  layout[ky(nd)] = {domain:yDom, anchor:xd, range:p.range, tickvals:p.tv, showticklabels:false,
    ticks:'inside', ticklen:13, tickwidth:1.6, tickcolor:'#000', showgrid:false, zeroline:false,
    showline:true, linecolor:'#000', linewidth:1.6, mirror:true};

  // vertical lines at interior high-symmetry points
  kDist.slice(1, -1).forEach(k => shapes.push({type:'line', xref:xRef, yref:yRef+' domain', x0:k, x1:k, y0:0, y1:1,
    line:{color:'#000', width:1.8}, layer:'above'}));

  // legend (short line + label)
  const [lx, ly, ldy] = p.leg;
  p.names.forEach((nm, c) => {
    const yy = ly + c*ldy;
    shapes.push({type:'line', xref:'paper', yref:'paper', x0:px(lx), x1:px(lx+8), y0:py(yy), y1:py(yy),
      line:{color:pdosColors[c], width:1.6}, layer:'above'});
    annotations.push({xref:'paper', yref:'paper', x:px(lx+8), y:py(yy), xanchor:'left', yanchor:'middle',
      text:nm, showarrow:false, font:{size:16, family:FONT, color:'#000'}, borderpad:0});
  });

  // caption
  annotations.push({xref:'paper', yref:'paper', x:px(196), y:py(p.capY), xanchor:'center', yanchor:'middle',
    text:captions[i], showarrow:false, font:{size:21, family:'DejaVu Serif', color:'#000'}});
});

layout.shapes = shapes;
layout.annotations = annotations;
Plotly.newPlot('chart', data, layout, {staticPlot:true, displayModeBar:false});
</script>
</body></html>
